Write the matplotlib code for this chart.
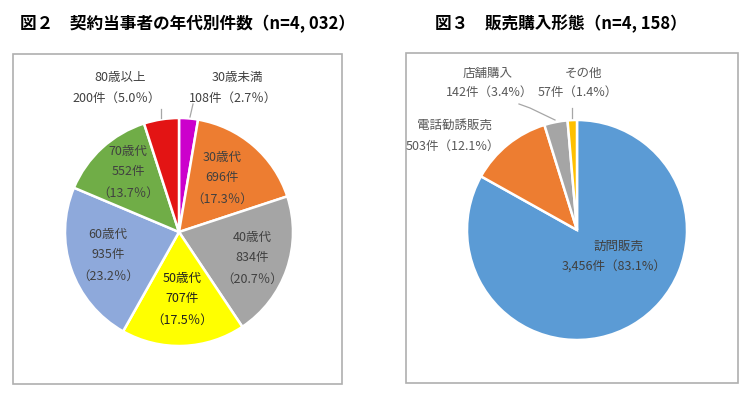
import matplotlib
matplotlib.use("Agg")
import matplotlib.pyplot as plt
from matplotlib.patches import Rectangle
from matplotlib.lines import Line2D

plt.rcParams['font.family'] = ['Noto Sans CJK JP', 'DejaVu Sans']

W, H = 749, 397

# ---- data: figure 2 ----
age_cats = ["30歳未満", "30歳代", "40歳代", "50歳代", "60歳代", "70歳代", "80歳以上"]
age_counts = [108, 696, 834, 707, 935, 552, 200]
age_pcts = ["2.7", "17.3", "20.7", "17.5", "23.2", "13.7", "5.0"]
age_colors = ["#CC00CC", "#ED7D31", "#A5A5A5", "#FFFF00", "#8EA9DB", "#70AD47", "#E31414"]
age_title = "図２　契約当事者の年代別件数（n=4, 032）"

# ---- data: figure 3 ----
sale_cats = ["訪問販売", "電話勧誘販売", "店舗購入", "その他"]
sale_counts = [3456, 503, 142, 57]
sale_pcts = ["83.1", "12.1", "3.4", "1.4"]
sale_colors = ["#5B9BD5", "#ED7D31", "#A5A5A5", "#FFC000"]
sale_title = "図３　販売購入形態（n=4, 158）"

fig = plt.figure(figsize=(W / 100, H / 100), dpi=100)
fig.patch.set_facecolor("white")


def fx(x):
    return x / W


def fy(y):
    return 1 - y / H


def frame(x0, y0, x1, y1):
    fig.patches.append(Rectangle((fx(x0), fy(y1)), fx(x1) - fx(x0), fy(y0) - fy(y1),
                                 transform=fig.transFigure, fill=False,
                                 edgecolor="#AFAFAF", linewidth=1.2))


def pie_axes(cx, cy, r):
    ax = fig.add_axes([fx(cx - r), fy(cy + r), 2 * r / W, 2 * r / H])
    return ax


def finish(ax):
    ax.set_xlim(-1, 1)
    ax.set_ylim(-1, 1)
    ax.axis("off")


def label(x, y, s, color="#404040", size=9):
    fig.text(fx(x), fy(y), s, ha="center", va="center", fontsize=size, color=color)


def leader(pts):
    xs = [fx(p[0]) for p in pts]
    ys = [fy(p[1]) for p in pts]
    fig.lines.append(Line2D(xs, ys, transform=fig.transFigure, color="#A6A6A6", linewidth=0.9))


# frames
frame(13, 54, 342, 384)
frame(406, 53, 738, 383)

# titles
fig.text(fx(20), fy(24), age_title, ha="left", va="center", fontsize=12,
         fontweight="bold", color="#000000")
fig.text(fx(435), fy(24), sale_title, ha="left", va="center", fontsize=12,
         fontweight="bold", color="#000000")

# ---- pie 1 ----
ax1 = pie_axes(179, 232, 114)
ax1.pie(age_counts, colors=age_colors, startangle=90, counterclock=False, radius=1,
        wedgeprops=dict(edgecolor="white", linewidth=1.8))
finish(ax1)

# labels for pie 1 (three-line inside, two-line outside)
label(237, 77, age_cats[0])
label(233, 98, f"{age_counts[0]}件（{age_pcts[0]}％）")
leader([(193, 104), (190, 117)])
label(120, 77, age_cats[6])
label(117, 98, f"{age_counts[6]}件（{age_pcts[6]}％）")
leader([(161, 109), (161, 118)])

inside1 = {1: (222, 157), 2: (252, 237), 3: (182, 278), 4: (108, 234), 5: (128, 151)}
for i, (x, y) in inside1.items():
    c = "#202020" if i == 3 else "#404040"
    label(x, y, age_cats[i], color=c)
    label(x, y + 20.5, f"{age_counts[i]}件", color=c)
    label(x, y + 42, f"（{age_pcts[i]}％）", color=c)

# ---- pie 2 ----
ax2 = pie_axes(577, 230, 110)
ax2.pie(sale_counts, colors=sale_colors, startangle=90, counterclock=False, radius=1,
        wedgeprops=dict(edgecolor="white", linewidth=1.8))
finish(ax2)

gc = "#595959"
label(618, 246, sale_cats[0], color="#404040")
label(614, 267, f"{sale_counts[0]:,}件（{sale_pcts[0]}%）", color="#404040")
label(455, 125, sale_cats[1], color=gc)
label(453, 146, f"{sale_counts[1]}件（{sale_pcts[1]}%）", color=gc)
label(488, 73, sale_cats[2], color=gc)
label(490, 92, f"{sale_counts[2]}件（{sale_pcts[2]}%）", color=gc)
leader([(519, 104), (530, 108), (555, 120)])
label(583, 73, sale_cats[3], color=gc)
label(578, 92, f"{sale_counts[3]}件（{sale_pcts[3]}%）", color=gc)
leader([(572, 108), (572, 118)])

fig.savefig("out.png", dpi=100, facecolor="white")
